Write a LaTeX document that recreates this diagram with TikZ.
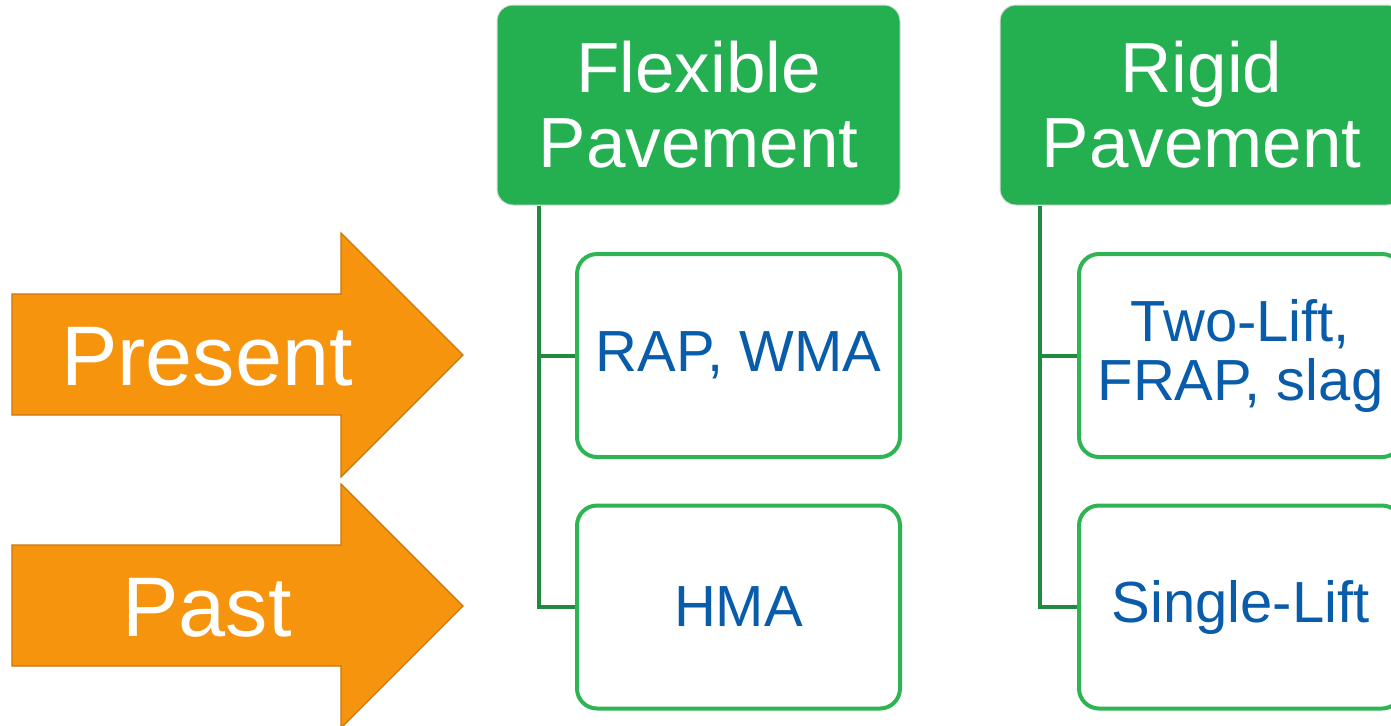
\documentclass[tikz,border=0pt]{standalone}
\usepackage{fontspec}
\setmainfont{Liberation Sans}
\usetikzlibrary{positioning}
\definecolor{hdrgreen}{RGB}{36,176,80}
\definecolor{boxgreen}{RGB}{46,180,82}
\definecolor{linegreen}{RGB}{30,140,60}
\definecolor{txtblue}{RGB}{8,92,170}
\definecolor{arroworange}{RGB}{247,148,14}
\tikzset{
headnode/.style = {rectangle, rounded corners=8pt, fill=hdrgreen, draw=black!15, line width=0.5pt,
  text=white, minimum width=201.5pt, minimum height=100pt, inner sep=0pt, align=center,
  font=\fontsize{35.5}{37.5}\selectfont},
leafnode/.style = {rectangle, rounded corners=10pt, fill=white, draw=boxgreen, line width=2pt,
  text=txtblue, minimum width=161.5pt, minimum height=101.5pt, inner sep=0pt, align=center,
  font=\fontsize{29}{29.5}\selectfont},
timenode/.style = {text=white, inner sep=0pt, font=\fontsize{42.3}{44}\selectfont},
conn/.style = {draw=linegreen, line width=2pt},
timearrow/.style = {fill=arroworange, draw=arroworange!80!black, line width=0.6pt, line join=miter}
}

\begin{document}
\begin{tikzpicture}[x=0.5pt, y=-0.5pt]
    \clip (0,0) rectangle (1391,725);
    % time arrows
    \draw[timearrow] (12,294) -- (341,294) -- (341,233) -- (463,355) -- (341,477) -- (341,415) -- (12,415) -- cycle;
    \draw[timearrow] (12,545) -- (341,545) -- (341,484) -- (463,606) -- (341,728) -- (341,666) -- (12,666) -- cycle;
    \node [timenode] (present) at (207,357) {Present};
    \node [timenode] (past) at (207,608) {Past};
    % flexible pavement
    \node [headnode] (flex) at (698.5,105) {Flexible\\Pavement};
    \node [leafnode] (flexnow) at (738.5,355.5) {RAP, WMA};
    \node [leafnode] (flexold) at (738.5,607) {HMA};
    % rigid pavement
    \node [headnode] (rigid) at (1201.5,105) {Rigid\\Pavement};
    \node [leafnode] (rigidnow) at (1240.5,355.5) {Two-Lift,\\FRAP, slag};
    \node [leafnode] (rigidold) at (1240.5,607) {Single-Lift};
    \draw[conn] ([xshift=21pt]flex.south west) |- (flexnow.west);
    \draw[conn] ([xshift=21pt]flex.south west) |- (flexold.west);
    \draw[conn] ([xshift=20pt]rigid.south west) |- (rigidnow.west);
    \draw[conn] ([xshift=20pt]rigid.south west) |- (rigidold.west);
\end{tikzpicture}
\end{document}
